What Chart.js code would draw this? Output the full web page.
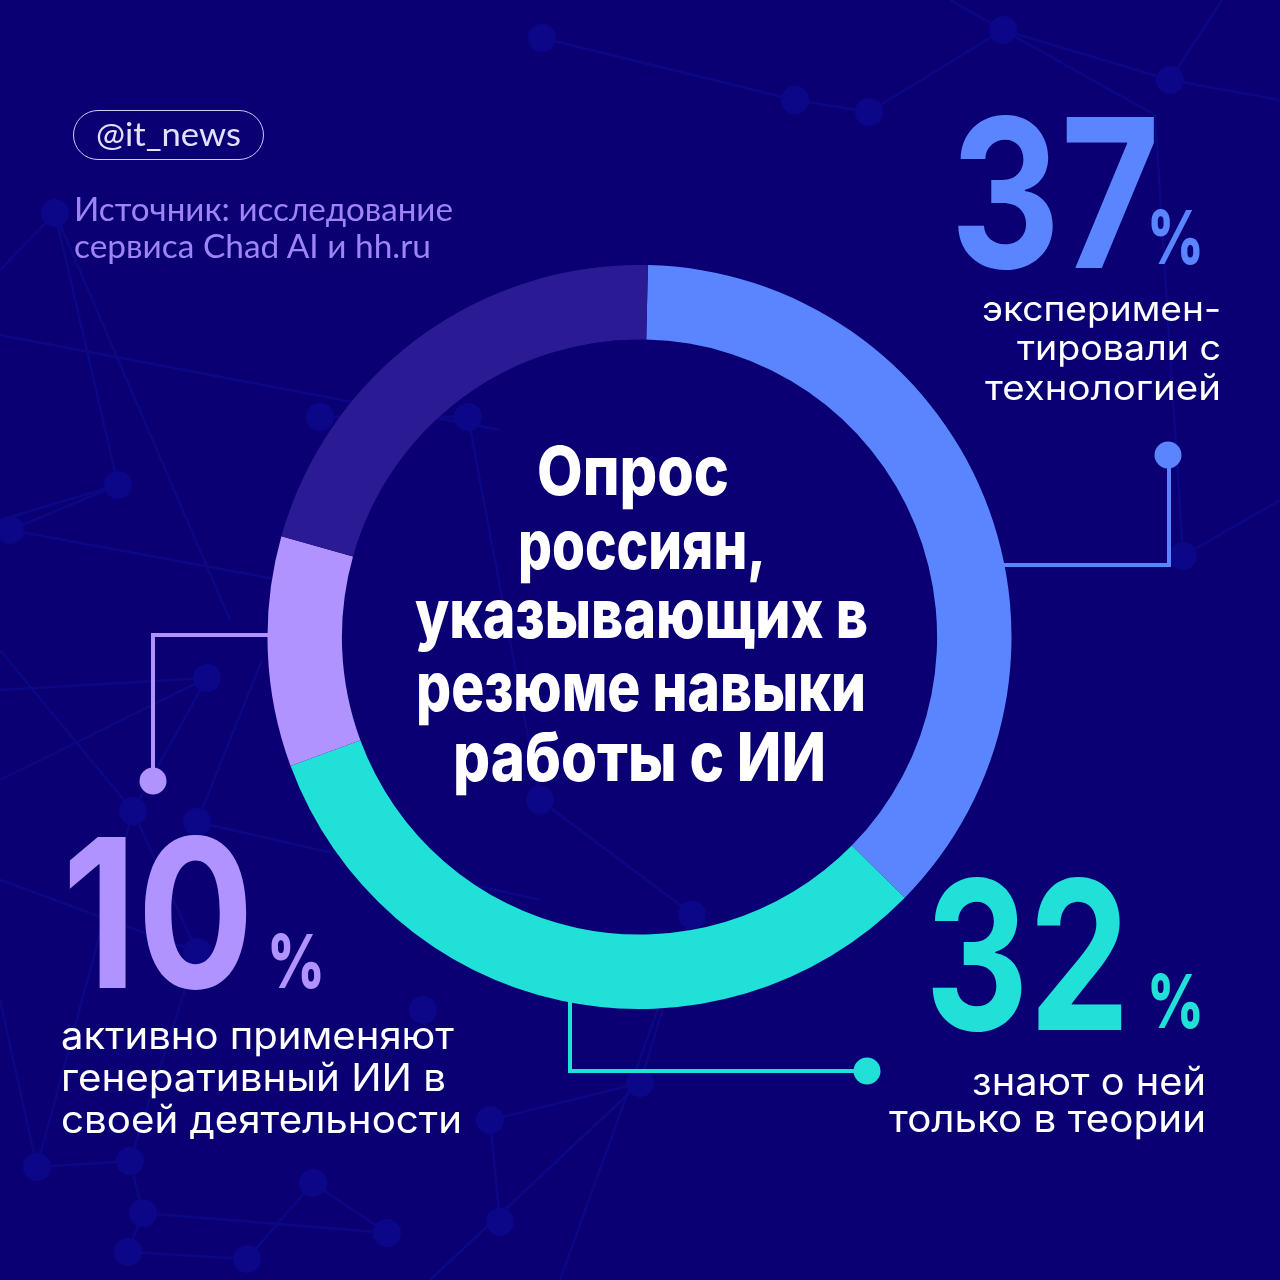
<!DOCTYPE html>
<html lang="ru">
<head>
<meta charset="utf-8">
<title>Опрос россиян</title>
<script src="https://cdn.jsdelivr.net/npm/chart.js@4"></script>
<style>
html,body{margin:0;padding:0;background:#0a0074;width:1280px;height:1280px;overflow:hidden}
#bg,#fg{position:absolute;left:0;top:0}
#wrap{position:absolute;left:267px;top:265px;width:745px;height:744px}
#pill{position:absolute;left:73px;top:110px;width:189px;height:48px;border:1.3px solid #cfcbff;border-radius:25px}
.t{position:absolute;white-space:nowrap;line-height:1;transform-origin:0 100%}
</style>
</head>
<body>
<svg id="bg" width="1280" height="1280"></svg>
<div id="wrap"><canvas id="c" width="745" height="744"></canvas></div>
<svg id="fg" width="1280" height="1280"></svg>
<div id="pill"></div>
<div id="txt"></div>
<script>
const categories = ["Экспериментировали с технологией","Знают о ней только в теории","Активно применяют генеративный ИИ","Остальные"];
const shares = [37,32,10,21];
const colors = ["#5a85ff","#20e0d8","#b093ff","#2a1a94"];

const ns = "http://www.w3.org/2000/svg";
function el(parent,name,attrs){const e=document.createElementNS(ns,name);for(const k in attrs)e.setAttribute(k,attrs[k]);parent.appendChild(e);return e;}

// decorative network behind the chart
const nodes = [[1003,30],[1170,80],[869,112],[542,38],[795,100],[1183,556],[55,213],[118,485],[10,530],[320,417],[468,417],[207,678],[133,811],[197,822],[540,800],[692,915],[37,1167],[130,1161],[143,1213],[128,1252],[247,1259],[313,1183],[387,1233],[423,1010],[640,1083],[490,1120],[500,1222],[197,952]];
const links = [[0,1],[2,4],[3,4],[6,7],[7,8],[9,10],[11,12],[12,16],[16,17],[17,18],[18,19],[19,20],[20,21],[21,22],[24,25],[25,26],[15,24],[27,17],[27,12],[10,14],[22,18]];
const bg = document.getElementById("bg");
const edges = [[950,0,1003,30],[1003,30,1155,115],[1155,115,1183,556],[869,112,1003,30],[1280,100,1170,80],[1222,0,1170,80],[0,335,500,430],[0,270,55,213],[55,213,230,620],[0,690,207,678],[0,780,207,678],[0,880,197,952],[0,1000,37,1167],[0,650,133,811],[1280,500,1183,556],[560,1280,692,915],[430,1280,640,1083],[197,822,262,660],[197,822,540,900],[118,485,0,520],[10,530,280,580],[540,800,700,920]];
const lineColor = "#0c0884", nodeColor = "#0b0788";
links.forEach(([a,b])=>el(bg,"line",{x1:nodes[a][0],y1:nodes[a][1],x2:nodes[b][0],y2:nodes[b][1],stroke:lineColor,"stroke-width":2.5}));
edges.forEach(([a,b,c,d])=>el(bg,"line",{x1:a,y1:b,x2:c,y2:d,stroke:lineColor,"stroke-width":2.5}));
nodes.forEach(([x,y])=>el(bg,"circle",{cx:x,cy:y,r:14,fill:nodeColor}));

// leader lines
const fg = document.getElementById("fg");
el(fg,"polyline",{points:"1003,565 1169,565 1169,455",fill:"none",stroke:colors[0],"stroke-width":4});
el(fg,"circle",{cx:1168,cy:455,r:13.5,fill:colors[0]});
el(fg,"polyline",{points:"269,635 153,635 153,781",fill:"none",stroke:colors[2],"stroke-width":4});
el(fg,"circle",{cx:153,cy:781,r:13.5,fill:colors[2]});
el(fg,"polyline",{points:"570,1002 570,1071 867,1071",fill:"none",stroke:colors[1],"stroke-width":4});
el(fg,"circle",{cx:867,cy:1071,r:13.5,fill:colors[1]});

new Chart(document.getElementById("c"),{
  type:"doughnut",
  data:{labels:categories,datasets:[{data:shares,backgroundColor:colors,borderWidth:0}]},
  options:{responsive:false,animation:false,rotation:1.3,cutout:"80%",
    plugins:{legend:{display:false},tooltip:{enabled:false}}}
});

// text: [string, left, right, baseline, size, weight, colour, family]
const W="#ffffff";
const texts = [
 ["@it_news",96,241,146,33,400,"#e4e1ff","Lato"],
 ["Источник: исследование",74,453,221,33,400,"#9f84f5","Lato"],
 ["сервиса Chad AI и hh.ru",74,431,258,33,400,"#9f84f5","Lato"],
 ["37",950,1160,268,208,700,colors[0],"Inter"],
 ["%",1147,1204,264,74,800,colors[0],"Inter"],
 ["эксперимен-",982,1221,321,35,400,W,"Inter"],
 ["тировали с",1017,1221,360,35,400,W,"Inter"],
 ["технологией",985,1221,400,35,400,W,"Inter"],
 ["10",62,254,988,208,700,colors[2],"Inter"],
 ["%",267,325,988,74,800,colors[2],"Inter"],
 ["активно применяют",61,454,1049,38,400,W,"Inter"],
 ["генеративный ИИ в",61,446,1091,38,400,W,"Inter"],
 ["своей деятельности",61,462,1133,38,400,W,"Inter"],
 ["32",925,1130,1030,208,700,colors[1],"Inter"],
 ["%",1147,1204,1028,74,800,colors[1],"Inter"],
 ["знают о ней",972,1206,1095,38,400,W,"Inter"],
 ["только в теории",889,1206,1132,38,400,W,"Inter"],
 ["Опрос",537,729,495,68,800,W,"Inter"],
 ["россиян,",518,766,569,68,800,W,"Inter"],
 ["указывающих в",415,868,638,68,800,W,"Inter"],
 ["резюме навыки",416,866,711,68,800,W,"Inter"],
 ["работы с ИИ",453,826,781,68,800,W,"Inter"]
];
const box=document.getElementById("txt");
texts.forEach(([s,l,r,base,size,weight,col,fam])=>{
  const d=document.createElement("div");d.className="t";
  d.style.cssText+=`font:${weight} ${size}px/1 "${fam}",sans-serif;color:${col};left:0;top:0`;
  d.textContent=s;
  const probe=document.createElement("span");
  probe.style.cssText="display:inline-block;width:0;height:0";
  d.appendChild(probe);
  box.appendChild(d);
  const w=d.getBoundingClientRect().width;
  const b=probe.getBoundingClientRect().bottom;
  d.style.left=l+"px";
  d.style.top=(base-b)+"px";
  d.style.transformOrigin="0 "+b+"px";
  d.style.transform=`scaleX(${(r-l)/w})`;
});
</script>
</body>
</html>
